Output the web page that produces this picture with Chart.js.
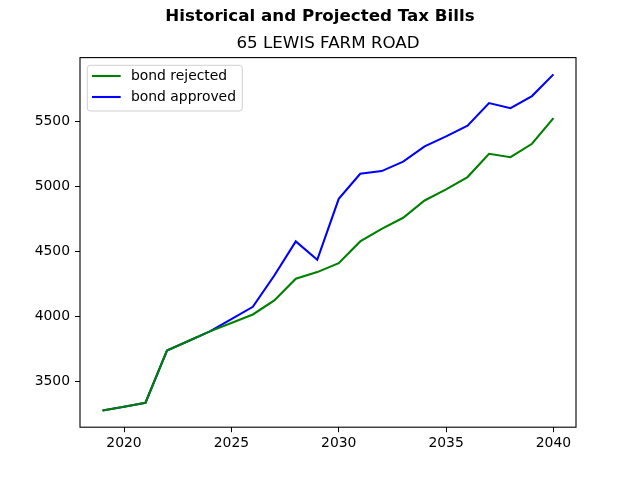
<!DOCTYPE html>
<html>
<head>
    <title>Tax Bills</title>
    <script src="https://cdn.jsdelivr.net/npm/chart.js"></script>
    <style>body { margin: 0; background: #fff; }</style>
</head>
<body>
    <canvas id="myChart" width="640" height="480"></canvas>
    <script>
        const suptitle = 'Historical and Projected Tax Bills';
        const subtitle = '65 LEWIS FARM ROAD';
        const years = [2019, 2020, 2021, 2022, 2023, 2024, 2025, 2026, 2027, 2028, 2029,
                       2030, 2031, 2032, 2033, 2034, 2035, 2036, 2037, 2038, 2039, 2040];
        const bondRejected = [3277, 3306, 3336, 3738, 3811, 3885, 3950, 4015, 4123, 4290, 4341,
                              4410, 4577, 4674, 4759, 4892, 4977, 5072, 5251, 5225, 5328, 5525];
        const bondApproved = [3277, 3306, 3336, 3738, 3811, 3885, 3980, 4074, 4315, 4577, 4436,
                              4905, 5097, 5118, 5191, 5308, 5385, 5467, 5641, 5602, 5695, 5862];
        const xTicks = [2020, 2025, 2030, 2035, 2040];
        const yTicks = [3500, 4000, 4500, 5000, 5500];

        const FONT = '"DejaVu Sans", sans-serif';

        // titles, frame and legend drawn the matplotlib way
        const decor = {
            id: 'decor',
            afterDatasetsDraw(chart) {
                const ctx = chart.ctx;
                const a = chart.chartArea;
                ctx.save();
                ctx.fillStyle = '#000';
                ctx.textAlign = 'center';
                ctx.textBaseline = 'middle';
                ctx.font = 'bold 16.7px ' + FONT;
                ctx.fillText(suptitle, 320, 16.5);
                ctx.font = '16.7px ' + FONT;
                ctx.fillText(subtitle, (a.left + a.right) / 2, 43.5);

                ctx.strokeStyle = '#000';
                ctx.lineWidth = 1.1;
                ctx.strokeRect(a.left, a.top, a.right - a.left, a.bottom - a.top);

                // legend
                const lx = a.left + 7.3, ly = a.top + 7.7, lw = 155, lh = 45.7;
                ctx.beginPath();
                ctx.roundRect(lx, ly, lw, lh, 3);
                ctx.fillStyle = 'rgba(255,255,255,0.8)';
                ctx.fill();
                ctx.strokeStyle = '#d0d0d0';
                ctx.lineWidth = 1;
                ctx.stroke();
                ctx.font = '13.9px ' + FONT;
                ctx.textAlign = 'left';
                chart.data.datasets.forEach((ds, i) => {
                    const yy = ly + 10.7 + i * 21;
                    ctx.strokeStyle = ds.borderColor;
                    ctx.lineWidth = 2.1;
                    ctx.beginPath();
                    ctx.moveTo(lx + 4.7, yy);
                    ctx.lineTo(lx + 33.4, yy);
                    ctx.stroke();
                    ctx.fillStyle = '#000';
                    ctx.fillText(ds.label, lx + 43.7, yy);
                });
                ctx.restore();
            }
        };

        const ctx = document.getElementById('myChart').getContext('2d');
        new Chart(ctx, {
            type: 'line',
            data: {
                datasets: [{
                    label: 'bond rejected',
                    data: years.map((x, i) => ({x, y: bondRejected[i]})),
                    borderColor: '#008000',
                    borderWidth: 2.1,
                    fill: false
                }, {
                    label: 'bond approved',
                    data: years.map((x, i) => ({x, y: bondApproved[i]})),
                    borderColor: '#0000ff',
                    borderWidth: 2.1,
                    fill: false
                }]
            },
            options: {
                responsive: false,
                animation: false,
                devicePixelRatio: 1,
                layout: { padding: { left: 0, right: 64, top: 57.6, bottom: 0 } },
                elements: { point: { radius: 0 }, line: { tension: 0 } },
                plugins: { legend: { display: false }, tooltip: { enabled: false } },
                scales: {
                    x: {
                        type: 'linear',
                        min: 2017.95,
                        max: 2041.05,
                        afterBuildTicks: s => { s.ticks = xTicks.map(v => ({value: v})); },
                        afterFit: s => { s.height = 52.8; },
                        ticks: {
                            color: '#000', padding: 3, maxRotation: 0,
                            font: { family: FONT, size: 13.9 },
                            callback: v => String(v)
                        },
                        grid: { drawOnChartArea: false, drawTicks: true, tickLength: 5, color: '#000' },
                        border: { display: false }
                    },
                    y: {
                        min: 3148,
                        max: 5991,
                        afterBuildTicks: s => { s.ticks = yTicks.map(v => ({value: v})); },
                        afterFit: s => { s.width = 80; },
                        ticks: {
                            color: '#000', padding: 5,
                            font: { family: FONT, size: 13.9 },
                            callback: v => String(v)
                        },
                        grid: { drawOnChartArea: false, drawTicks: true, tickLength: 5, color: '#000' },
                        border: { display: false }
                    }
                }
            },
            plugins: [decor]
        });
    </script>
</body>
</html>
